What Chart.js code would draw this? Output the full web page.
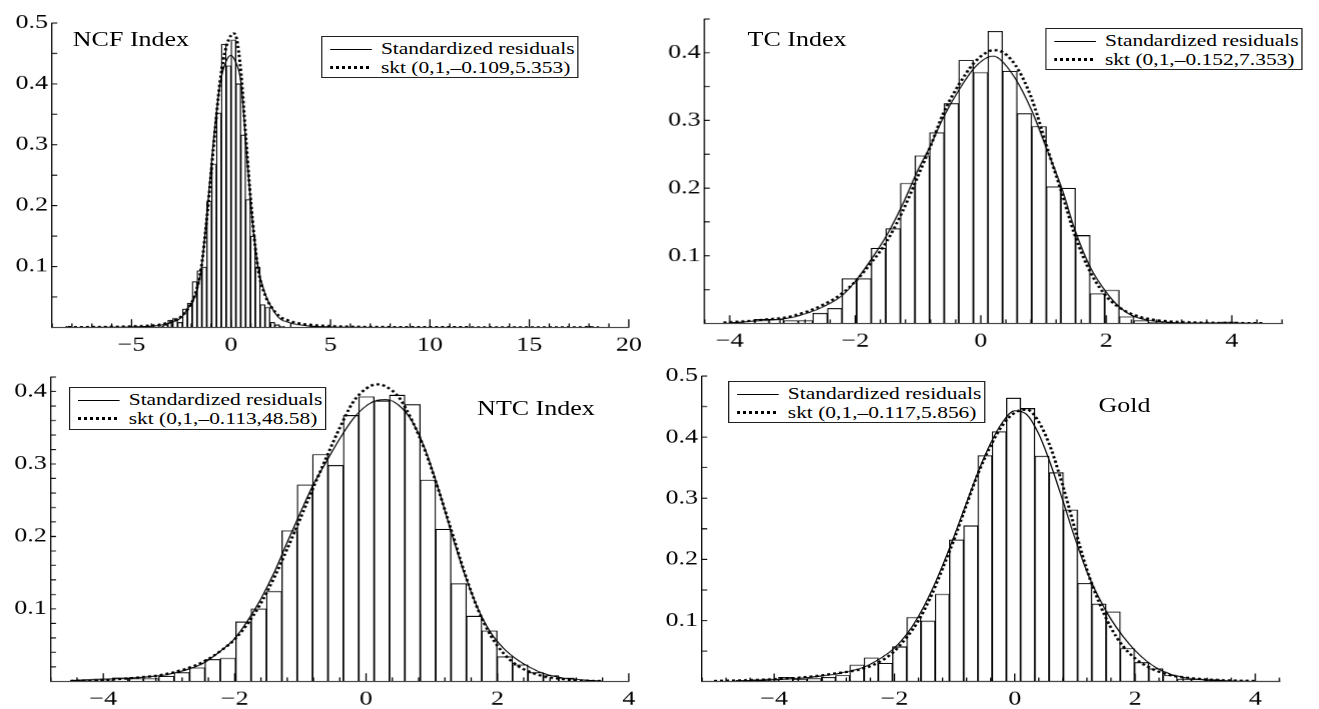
<!DOCTYPE html>
<html lang="en">
<head>
<meta charset="UTF-8">
<title>Standardized residuals vs skewed-t density</title>
<style>
  body {
    margin: 0;
    width: 1319px;
    height: 709px;
    position: relative;
    overflow: hidden;
    background: #fff;
    font-family: "Liberation Serif", "Times New Roman", serif;
    color: #000;
  }
  /* the source figure is stretched sideways, so the whole stage is too */
  #stage {
    position: absolute;
    left: 0;
    top: 0;
    width: 1015px;
    height: 709px;
    transform: scaleX(1.3);
    transform-origin: 0 0;
  }
  canvas { position: absolute; }
  .title {
    position: absolute;
    font-size: 20px;
    line-height: 20px;
    white-space: nowrap;
  }
  .legend {
    position: absolute;
    width: 198px;
    height: 42px;
    box-sizing: border-box;
    border: 1px solid #222;
    background: #fff;
    padding-top: 3px;
    font-size: 16.5px;
  }
  .row {
    display: flex;
    align-items: center;
    height: 18.5px;
    line-height: 18.5px;
    white-space: nowrap;
  }
  .sample {
    display: inline-block;
    width: 32px;
    margin-left: 6px;
    margin-right: 7px;
  }
  .solid { border-top: 1px solid #000; }
  .dotted {
    height: 3px;
    background: repeating-linear-gradient(90deg, #000 0 2.3px, transparent 2.3px 4.6px);
  }
</style>
</head>
<body>
<div id="stage">
  <canvas id="ncf" width="503" height="355" style="left:0px;top:8px"></canvas>
  <canvas id="tc" width="504" height="355" style="left:502px;top:4px"></canvas>
  <canvas id="ntc" width="503" height="355" style="left:0px;top:362px"></canvas>
  <canvas id="gold" width="504" height="356" style="left:500px;top:361px"></canvas>

  <div class="title" style="left:56px;top:29px">NCF Index</div>
  <div class="title" style="left:575px;top:29px">TC Index</div>
  <div class="title" style="left:367px;top:398px">NTC Index</div>
  <div class="title" style="left:845px;top:395px">Gold</div>

  <div class="legend" style="left:247px;top:36px">
    <div class="row"><span class="sample solid"></span><span>Standardized residuals</span></div>
    <div class="row"><span class="sample dotted"></span><span>skt (0,1,–0.109,5.353)</span></div>
  </div>
  <div class="legend" style="left:804px;top:28px">
    <div class="row"><span class="sample solid"></span><span>Standardized residuals</span></div>
    <div class="row"><span class="sample dotted"></span><span>skt (0,1,–0.152,7.353)</span></div>
  </div>
  <div class="legend" style="left:53px;top:387px;height:43px">
    <div class="row"><span class="sample solid"></span><span>Standardized residuals</span></div>
    <div class="row"><span class="sample dotted"></span><span>skt (0,1,–0.113,48.58)</span></div>
  </div>
  <div class="legend" style="left:560px;top:381px">
    <div class="row"><span class="sample solid"></span><span>Standardized residuals</span></div>
    <div class="row"><span class="sample dotted"></span><span>skt (0,1,–0.117,5.856)</span></div>
  </div>
</div>

<script src="https://cdn.jsdelivr.net/npm/chart.js"></script>
<script>
// ---------- NCF Index ----------
const ncfBinX = [-8.184, -3.542, -3.298, -3.054, -2.809, -2.565, -2.321, -2.076, -1.832, -1.588,
                 -1.344, -1.099, -0.855, -0.611, -0.366, -0.122, 0.122, 0.366, 0.611, 0.855,
                 1.099, 1.344, 1.588, 1.832, 2.076, 2.321, 2.565, 17.956];
const ncfBinY = [0.002, 0.002, 0.004, 0.012, 0.015, 0.008, 0.030, 0.040, 0.075, 0.093,
                 0.099, 0.207, 0.268, 0.352, 0.465, 0.430, 0.472, 0.400, 0.316, 0.210,
                 0.150, 0.099, 0.037, 0.033, 0.008, 0.004, 0.002, 0.002];
const ncfCurveX = [-8.2, -6, -5, -4, -3.5, -3, -2.5, -2.2, -1.8, -1.5, -1.2, -0.9, -0.55, -0.25,
                   0, 0.12, 0.25, 0.5, 0.75, 1.0, 1.35, 1.75, 2, 2.4, 3, 3.5, 4, 5, 6, 8, 12, 18.5];
const ncfKernel = [0, 0.0003, 0.0008, 0.002, 0.004, 0.008, 0.016, 0.030, 0.052, 0.095, 0.190, 0.300, 0.400, 0.437,
                   0.447, 0.443, 0.435, 0.402, 0.300, 0.200, 0.100, 0.052, 0.035, 0.016, 0.007, 0.004, 0.002, 0.0008, 0.0003, 0.0001, 0, 0];
const ncfSkt = [0.0002, 0.0008, 0.0015, 0.003, 0.005, 0.009, 0.018, 0.029, 0.055, 0.098, 0.185, 0.290, 0.405, 0.460,
                0.480, 0.483, 0.478, 0.418, 0.310, 0.205, 0.098, 0.050, 0.035, 0.019, 0.010, 0.006, 0.004, 0.002, 0.001, 0.0004, 0.0001, 0];
const ncfXLabels = [-5, 0, 5, 10, 15, 20];
const ncfYLabels = [0.1, 0.2, 0.3, 0.4, 0.5];

// ---------- TC Index ----------
const tcBinX = [-3.490, -3.257, -3.025, -2.792, -2.560, -2.327, -2.095, -1.862, -1.630, -1.397,
                -1.165, -0.932, -0.700, -0.467, -0.235, -0.002, 0.230, 0.463, 0.695, 0.928,
                1.160, 1.393, 1.625, 1.858, 2.090, 2.323, 2.555, 2.788, 3.950];
const tcBinY = [0.006, 0.006, 0.004, 0.004, 0.015, 0.022, 0.066, 0.066, 0.111, 0.140,
                0.207, 0.248, 0.282, 0.325, 0.389, 0.371, 0.432, 0.373, 0.310, 0.291,
                0.202, 0.200, 0.130, 0.044, 0.049, 0.010, 0.004, 0.0015, 0.002];
const tcCurveX = [-4.1, -3.5, -3, -2.5, -2.2, -2, -1.75, -1.5, -1.25, -1, -0.8, -0.6, -0.35, -0.1,
                  0.1, 0.2, 0.3, 0.55, 0.8, 1.05, 1.3, 1.5, 1.75, 2, 2.2, 2.4, 2.65, 3, 3.5, 4, 4.5];
const tcKernel = [0, 0.004, 0.009, 0.025, 0.042, 0.062, 0.094, 0.130, 0.175, 0.227, 0.263, 0.304, 0.345, 0.378,
                  0.393, 0.395, 0.391, 0.362, 0.317, 0.258, 0.197, 0.138, 0.082, 0.046, 0.025, 0.012, 0.005, 0.0015, 0.0005, 0.0005, 0];
const tcSkt = [0.001, 0.005, 0.011, 0.028, 0.045, 0.062, 0.089, 0.121, 0.165, 0.218, 0.262, 0.310, 0.353, 0.386,
               0.401, 0.404, 0.403, 0.382, 0.335, 0.262, 0.190, 0.130, 0.075, 0.040, 0.024, 0.014, 0.007, 0.003, 0.001, 0.0005, 0.0002];
const tcXLabels = [-4, -2, 0, 2, 4];
const tcYLabels = [0.1, 0.2, 0.3, 0.4];

// ---------- NTC Index ----------
const ntcBinX = [-4.209, -3.975, -3.741, -3.507, -3.273, -3.039, -2.804, -2.570, -2.336, -2.102,
                 -1.867, -1.633, -1.399, -1.165, -0.931, -0.697, -0.462, -0.228, 0.006, 0.240,
                 0.474, 0.708, 0.942, 1.177, 1.411, 1.645, 1.879, 2.113, 2.347, 2.582,
                 2.816, 3.050];
const ntcBinY = [0.002, 0.002, 0.005, 0.004, 0.004, 0.007, 0.012, 0.019, 0.030, 0.032,
                 0.082, 0.100, 0.124, 0.208, 0.271, 0.313, 0.298, 0.367, 0.393, 0.387,
                 0.395, 0.382, 0.278, 0.210, 0.135, 0.090, 0.070, 0.034, 0.023, 0.012,
                 0.008, 0.0045];
const ntcCurveX = [-4.5, -4, -3.5, -3, -2.5, -2.2, -2, -1.8, -1.6, -1.4, -1.2, -1, -0.8, -0.6, -0.4, -0.2,
                   0, 0.17, 0.3, 0.5, 0.7, 0.9, 1.1, 1.3, 1.5, 1.7, 1.9, 2.1, 2.3, 2.5, 2.7, 3, 3.3, 3.6];
const ntcKernel = [0.001, 0.003, 0.005, 0.010, 0.024, 0.043, 0.059, 0.084, 0.114, 0.150, 0.192, 0.233, 0.272, 0.304, 0.335, 0.362,
                   0.380, 0.388, 0.389, 0.381, 0.359, 0.320, 0.266, 0.205, 0.148, 0.101, 0.067, 0.045, 0.030, 0.019, 0.011, 0.0045, 0.002, 0.0003];
const ntcSkt = [0.0005, 0.002, 0.005, 0.011, 0.026, 0.043, 0.058, 0.080, 0.108, 0.143, 0.183, 0.225, 0.268, 0.310, 0.350, 0.385,
                0.404, 0.410, 0.407, 0.392, 0.360, 0.318, 0.265, 0.208, 0.150, 0.100, 0.063, 0.038, 0.022, 0.013, 0.007, 0.003, 0.001, 0.0003];
const ntcXLabels = [-4, -2, 0, 2, 4];
const ntcYLabels = [0.1, 0.2, 0.3, 0.4];

// ---------- Gold ----------
const goldBinX = [-4.518, -4.281, -4.044, -3.808, -3.571, -3.334, -3.097, -2.861, -2.624, -2.387,
                  -2.151, -1.914, -1.677, -1.441, -1.204, -0.967, -0.730, -0.494, -0.257, -0.020,
                  0.216, 0.453, 0.690, 0.927, 1.163, 1.400, 1.637, 1.873, 2.110, 2.347,
                  2.584, 2.820, 3.057, 3.294, 3.530];
const goldBinY = [0.002, 0.003, 0.004, 0.007, 0.004, 0.005, 0.007, 0.010, 0.027, 0.039,
                  0.030, 0.057, 0.105, 0.099, 0.143, 0.232, 0.255, 0.370, 0.409, 0.464,
                  0.447, 0.369, 0.342, 0.281, 0.161, 0.127, 0.114, 0.054, 0.031, 0.021,
                  0.010, 0.004, 0.004, 0.003, 0.001];
const goldCurveX = [-5, -4.5, -4, -3.5, -3, -2.5, -2.2, -2, -1.8, -1.6, -1.4, -1.2, -1, -0.8, -0.6, -0.4, -0.2,
                    0, 0.2, 0.4, 0.6, 0.8, 1, 1.2, 1.4, 1.6, 1.8, 2, 2.2, 2.4, 2.6, 2.8, 3, 3.5, 4];
const goldKernel = [0, 0.001, 0.003, 0.006, 0.012, 0.024, 0.040, 0.055, 0.077, 0.107, 0.145, 0.190, 0.240, 0.293, 0.345, 0.390, 0.425,
                    0.443, 0.437, 0.405, 0.355, 0.296, 0.235, 0.180, 0.137, 0.102, 0.074, 0.051, 0.033, 0.020, 0.012, 0.007, 0.004, 0.0015, 0.0003];
const goldSkt = [0.001, 0.002, 0.004, 0.007, 0.013, 0.022, 0.035, 0.050, 0.072, 0.100, 0.138, 0.185, 0.235, 0.290, 0.343, 0.386, 0.420,
                 0.440, 0.445, 0.425, 0.382, 0.320, 0.250, 0.183, 0.130, 0.088, 0.058, 0.038, 0.025, 0.016, 0.010, 0.007, 0.005, 0.002, 0.001];
const goldXLabels = [-4, -2, 0, 2, 4];
const goldYLabels = [0.1, 0.2, 0.3, 0.4, 0.5];

Chart.defaults.font.family = '"Liberation Serif", "Times New Roman", serif';
Chart.defaults.color = '#000';

// inward tick marks on both axes, placed with the chart's own scales
const innerTicks = {
  id: 'innerTicks',
  afterDatasetsDraw(chart, args, opts) {
    const { ctx, chartArea } = chart;
    const x = chart.scales.x, y = chart.scales.y;
    ctx.save();
    ctx.strokeStyle = '#000';
    ctx.lineWidth = 1;
    ctx.beginPath();
    let n = Math.round((x.max - x.min) / opts.xStep);
    for (let i = 0; i <= n; i++) {
      const v = x.min + i * opts.xStep;
      const r = v / opts.xMajor;
      const len = Math.abs(r - Math.round(r)) < 1e-6 ? 8 : 4;
      const px = x.getPixelForValue(v);
      ctx.moveTo(px, chartArea.bottom);
      ctx.lineTo(px, chartArea.bottom - len);
    }
    n = Math.round((y.max - y.min) / opts.yStep);
    for (let i = 1; i <= n; i++) {
      const py = y.getPixelForValue(y.min + i * opts.yStep);
      ctx.moveTo(chartArea.left, py);
      ctx.lineTo(chartArea.left + 4, py);
    }
    ctx.stroke();
    ctx.restore();
  }
};

function pairs(xs, ys) {
  return xs.map((v, i) => ({ x: v, y: ys[i] }));
}

function fmtX(v) {
  return v < 0 ? '\u2212' + Math.abs(v) : String(v);
}

function makeChart(p) {
  return new Chart(document.getElementById(p.id), {
    type: 'bar',
    data: {
      datasets: [
        {
          type: 'line',
          label: 'Standardized residuals',
          data: pairs(p.curveX, p.kernel),
          borderColor: '#000',
          borderWidth: 1,
          pointRadius: 0,
          cubicInterpolationMode: 'monotone',
          order: 1
        },
        {
          type: 'line',
          label: 'skt',
          data: pairs(p.curveX, p.skt),
          borderColor: '#000',
          borderWidth: 2.3,
          borderDash: [2.3, 2.3],
          pointRadius: 0,
          cubicInterpolationMode: 'monotone',
          order: 0
        },
        {
          type: 'bar',
          label: 'histogram',
          data: pairs(p.binX, p.binY),
          backgroundColor: '#fff',
          borderColor: '#000',
          borderWidth: 1,
          barPercentage: 1,
          categoryPercentage: 1,
          grouped: false,
          order: 2
        }
      ]
    },
    options: {
      responsive: false,
      animation: false,
      devicePixelRatio: 1.3,
      layout: { padding: { top: 14, right: 20, left: 0, bottom: 0 } },
      plugins: {
        legend: { display: false },
        tooltip: { enabled: false },
        innerTicks: { xStep: p.xStep, xMajor: p.xMajor, yStep: p.yStep }
      },
      scales: {
        x: {
          type: 'linear',
          min: p.xMin,
          max: p.xMax,
          offset: false,
          grid: { display: false, drawTicks: false },
          border: { display: true, color: '#000', width: 1, z: 1 },
          afterBuildTicks: s => { s.ticks = p.xLabels.map(v => ({ value: v })); },
          afterFit: s => { s.height = 36; },
          ticks: {
            autoSkip: false,
            maxRotation: 0,
            padding: 6,
            font: { size: 20 },
            callback: v => fmtX(v)
          }
        },
        y: {
          type: 'linear',
          min: 0,
          max: p.yMax,
          grid: { display: false, drawTicks: false },
          border: { display: true, color: '#000', width: 1, z: 1 },
          afterBuildTicks: s => { s.ticks = p.yLabels.map(v => ({ value: v })); },
          afterFit: s => { s.width = p.yWidth; },
          ticks: {
            autoSkip: false,
            padding: 3,
            font: { size: 20 },
            callback: v => v.toFixed(1)
          }
        }
      }
    },
    plugins: [innerTicks]
  });
}

makeChart({ id: 'ncf', binX: ncfBinX, binY: ncfBinY, curveX: ncfCurveX, kernel: ncfKernel, skt: ncfSkt,
            xLabels: ncfXLabels, yLabels: ncfYLabels, xMin: -9, xMax: 20, yMax: 0.5,
            xStep: 1, xMajor: 5, yStep: 0.05, yWidth: 40 });
makeChart({ id: 'tc', binX: tcBinX, binY: tcBinY, curveX: tcCurveX, kernel: tcKernel, skt: tcSkt,
            xLabels: tcXLabels, yLabels: tcYLabels, xMin: -4.4, xMax: 4.8, yMax: 0.45,
            xStep: 0.4, xMajor: 2, yStep: 0.05, yWidth: 40 });
makeChart({ id: 'ntc', binX: ntcBinX, binY: ntcBinY, curveX: ntcCurveX, kernel: ntcKernel, skt: ntcSkt,
            xLabels: ntcXLabels, yLabels: ntcYLabels, xMin: -4.8, xMax: 4, yMax: 0.42,
            xStep: 0.4, xMajor: 2, yStep: 0.02, yWidth: 39 });
makeChart({ id: 'gold', binX: goldBinX, binY: goldBinY, curveX: goldCurveX, kernel: goldKernel, skt: goldSkt,
            xLabels: goldXLabels, yLabels: goldYLabels, xMin: -5.2, xMax: 4.4, yMax: 0.5,
            xStep: 0.4, xMajor: 2, yStep: 0.05, yWidth: 40 });
</script>
</body>
</html>
